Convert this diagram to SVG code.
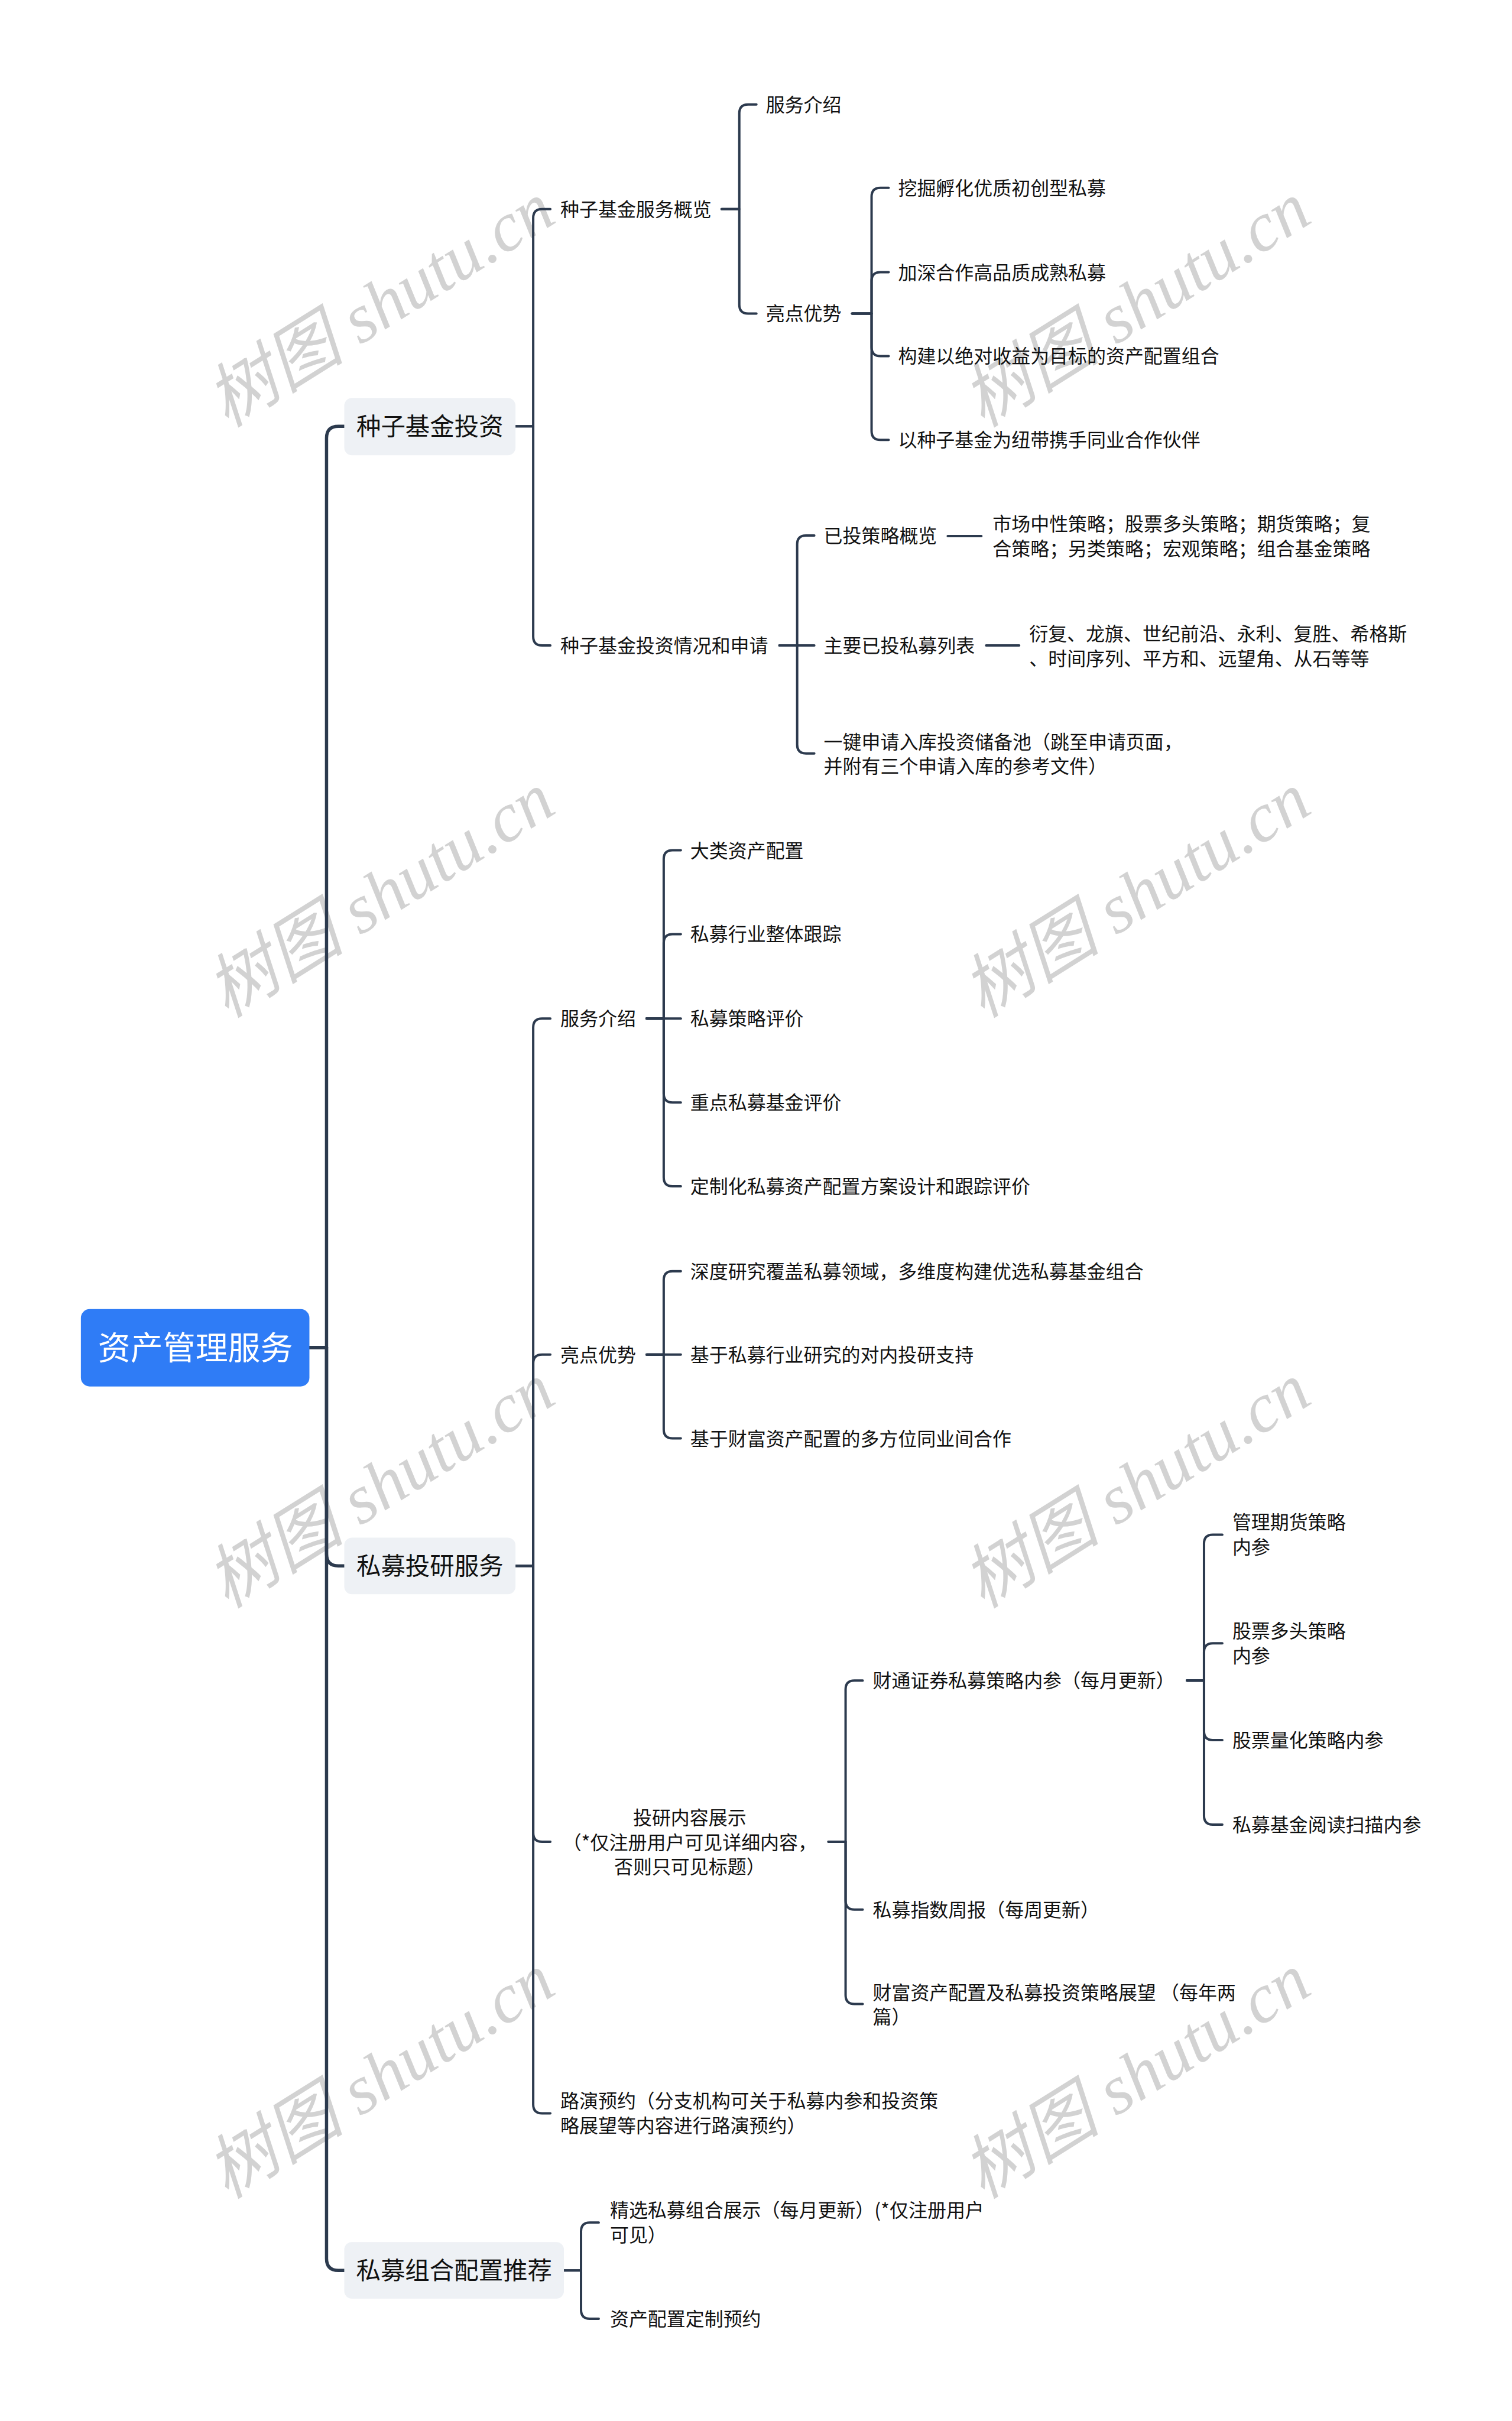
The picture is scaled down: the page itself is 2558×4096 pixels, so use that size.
<svg xmlns="http://www.w3.org/2000/svg" width="2558" height="4096" viewBox="0 0 2558 4096">
<style>
.wm{font-family:"Liberation Serif","Noto Sans CJK SC",serif;font-style:italic;font-size:118px;fill:#d2d2d2;text-anchor:middle}
.c{fill:none;stroke:#2c3a4e;stroke-width:4;stroke-linecap:round;stroke-linejoin:round}
.tr{stroke-width:5.5}
.t{font-family:"Noto Sans CJK SC","Noto Sans CJK TC",sans-serif;font-size:32px;fill:#111}
.l1{font-family:"Noto Sans CJK SC","Noto Sans CJK TC",sans-serif;font-size:41.5px;fill:#111;text-anchor:middle}
.rt{font-family:"Noto Sans CJK SC","Noto Sans CJK TC",sans-serif;font-size:55px;fill:#ffffff;text-anchor:middle}
.m{text-anchor:middle}
.b1{fill:#eef1f5}
</style>
<rect width="2558" height="4096" fill="#ffffff"/>
<g transform="scale(0.999)">
<g id="watermark">
<text class="wm" transform="translate(644,516) rotate(-32)" y="40">树图 shutu.cn</text>
<text class="wm" transform="translate(1924,516) rotate(-32)" y="40">树图 shutu.cn</text>
<text class="wm" transform="translate(644,1516) rotate(-32)" y="40">树图 shutu.cn</text>
<text class="wm" transform="translate(1924,1516) rotate(-32)" y="40">树图 shutu.cn</text>
<text class="wm" transform="translate(644,2516) rotate(-32)" y="40">树图 shutu.cn</text>
<text class="wm" transform="translate(1924,2516) rotate(-32)" y="40">树图 shutu.cn</text>
<text class="wm" transform="translate(644,3516) rotate(-32)" y="40">树图 shutu.cn</text>
<text class="wm" transform="translate(1924,3516) rotate(-32)" y="40">树图 shutu.cn</text>
</g>
<g id="connectors">
<path class="c tr" d="M524,2282 H553 V742 Q553,722 573,722 H583"/>
<path class="c tr" d="M524,2282 H553 V2632 Q553,2652 573,2652 H583"/>
<path class="c tr" d="M524,2282 H553 V3825 Q553,3845 573,3845 H583"/>
<path class="c" d="M873,722 H903 V369 Q903,354 918,354 H932"/>
<path class="c" d="M873,722 H903 V1078 Q903,1093 918,1093 H932"/>
<path class="c" d="M1222,354 H1252 V192 Q1252,177 1267,177 H1281"/>
<path class="c" d="M1222,354 H1252 V516 Q1252,531 1267,531 H1281"/>
<path class="c" d="M1443,531 H1476 V333 Q1476,318 1491,318 H1505"/>
<path class="c" d="M1443,531 H1476 V476 Q1476,461 1491,461 H1505"/>
<path class="c" d="M1443,531 H1476 V588 Q1476,603 1491,603 H1505"/>
<path class="c" d="M1443,531 H1476 V730 Q1476,745 1491,745 H1505"/>
<path class="c" d="M1320,1093 H1350 V922 Q1350,907 1365,907 H1379"/>
<path class="c" d="M1320,1093 H1379"/>
<path class="c" d="M1320,1093 H1350 V1261 Q1350,1276 1365,1276 H1379"/>
<path class="c" d="M1605,908 H1662"/>
<path class="c" d="M1670,1093 H1726"/>
<path class="c" d="M873,2652 H903 V1740 Q903,1725 918,1725 H932"/>
<path class="c" d="M873,2652 H903 V2309 Q903,2294 918,2294 H932"/>
<path class="c" d="M873,2652 H903 V3104 Q903,3119 918,3119 H932"/>
<path class="c" d="M873,2652 H903 V3564 Q903,3579 918,3579 H932"/>
<path class="c" d="M1095,1725 H1124 V1455 Q1124,1440 1139,1440 H1153"/>
<path class="c" d="M1095,1725 H1124 V1597 Q1124,1582 1139,1582 H1153"/>
<path class="c" d="M1095,1725 H1153"/>
<path class="c" d="M1095,1725 H1124 V1852 Q1124,1867 1139,1867 H1153"/>
<path class="c" d="M1095,1725 H1124 V1994 Q1124,2009 1139,2009 H1153"/>
<path class="c" d="M1095,2294 H1124 V2168 Q1124,2153 1139,2153 H1153"/>
<path class="c" d="M1095,2294 H1153"/>
<path class="c" d="M1095,2294 H1124 V2421 Q1124,2436 1139,2436 H1153"/>
<path class="c" d="M1403,3119 H1432 V2861 Q1432,2846 1447,2846 H1461"/>
<path class="c" d="M1403,3119 H1432 V3219 Q1432,3234 1447,3234 H1461"/>
<path class="c" d="M1403,3119 H1432 V3379 Q1432,3394 1447,3394 H1461"/>
<path class="c" d="M2010,2846 H2039 V2614 Q2039,2599 2054,2599 H2070"/>
<path class="c" d="M2010,2846 H2039 V2798 Q2039,2783 2054,2783 H2070"/>
<path class="c" d="M2010,2846 H2039 V2932 Q2039,2947 2054,2947 H2070"/>
<path class="c" d="M2010,2846 H2039 V3075 Q2039,3090 2054,3090 H2070"/>
<path class="c" d="M955,3845 H984 V3779 Q984,3764 999,3764 H1014"/>
<path class="c" d="M955,3845 H984 V3912 Q984,3927 999,3927 H1014"/>
</g>
<g id="root"><rect x="137" y="2217" width="387" height="131" rx="15" fill="#2f7cf6"/><text class="rt" x="331" y="2302">资产管理服务</text></g>
<g id="n-seed"><rect class="b1" x="583" y="674" width="290" height="97" rx="13"/><text class="l1" x="728" y="737">种子基金投资</text></g>
<g id="n-research"><rect class="b1" x="583" y="2604" width="290" height="96" rx="13"/><text class="l1" x="728" y="2667">私募投研服务</text></g>
<g id="n-portfolio"><rect class="b1" x="583" y="3797" width="372" height="96" rx="13"/><text class="l1" x="769" y="3860">私募组合配置推荐</text></g>
<g id="n-seed-overview"><text class="t" x="949" y="366">种子基金服务概览</text></g>
<g id="n-seed-intro"><text class="t" x="1297" y="189">服务介绍</text></g>
<g id="n-seed-adv"><text class="t" x="1297" y="543">亮点优势</text></g>
<g id="n-adv1"><text class="t" x="1521" y="330">挖掘孵化优质初创型私募</text></g>
<g id="n-adv2"><text class="t" x="1521" y="473">加深合作高品质成熟私募</text></g>
<g id="n-adv3"><text class="t" x="1521" y="615">构建以绝对收益为目标的资产配置组合</text></g>
<g id="n-adv4"><text class="t" x="1521" y="757">以种子基金为纽带携手同业合作伙伴</text></g>
<g id="n-seed-apply"><text class="t" x="949" y="1105">种子基金投资情况和申请</text></g>
<g id="n-strat"><text class="t" x="1395" y="919">已投策略概览</text></g>
<g id="n-strat-list"><text class="t" x="1681" y="899">市场中性策略；股票多头策略；期货策略；复</text><text class="t" x="1681" y="941">合策略；另类策略；宏观策略；组合基金策略</text></g>
<g id="n-list"><text class="t" x="1395" y="1105">主要已投私募列表</text></g>
<g id="n-list-names"><text class="t" x="1743" y="1085">衍复、龙旗、世纪前沿、永利、复胜、希格斯</text><text class="t" x="1743" y="1127">、时间序列、平方和、远望角、从石等等</text></g>
<g id="n-apply"><text class="t" x="1395" y="1268">一键申请入库投资储备池（跳至申请页面，</text><text class="t" x="1395" y="1309">并附有三个申请入库的参考文件）</text></g>
<g id="n-r-intro"><text class="t" x="949" y="1737">服务介绍</text></g>
<g id="n-r-i1"><text class="t" x="1169" y="1452">大类资产配置</text></g>
<g id="n-r-i2"><text class="t" x="1169" y="1594">私募行业整体跟踪</text></g>
<g id="n-r-i3"><text class="t" x="1169" y="1737">私募策略评价</text></g>
<g id="n-r-i4"><text class="t" x="1169" y="1879">重点私募基金评价</text></g>
<g id="n-r-i5"><text class="t" x="1169" y="2021">定制化私募资产配置方案设计和跟踪评价</text></g>
<g id="n-r-adv"><text class="t" x="949" y="2306">亮点优势</text></g>
<g id="n-r-a1"><text class="t" x="1169" y="2165">深度研究覆盖私募领域，多维度构建优选私募基金组合</text></g>
<g id="n-r-a2"><text class="t" x="1169" y="2306">基于私募行业研究的对内投研支持</text></g>
<g id="n-r-a3"><text class="t" x="1169" y="2448">基于财富资产配置的多方位同业间合作</text></g>
<g id="n-r-show"><text class="t m" x="1168" y="3090">投研内容展示</text><text class="t m" x="1168" y="3132">（*仅注册用户可见详细内容，</text><text class="t m" x="1168" y="3173">否则只可见标题）</text></g>
<g id="n-caitong"><text class="t" x="1478" y="2858">财通证券私募策略内参（每月更新）</text></g>
<g id="n-ct1"><text class="t" x="2087" y="2590">管理期货策略</text><text class="t" x="2087" y="2632">内参</text></g>
<g id="n-ct2"><text class="t" x="2087" y="2774">股票多头策略</text><text class="t" x="2087" y="2816">内参</text></g>
<g id="n-ct3"><text class="t" x="2087" y="2959">股票量化策略内参</text></g>
<g id="n-ct4"><text class="t" x="2087" y="3102">私募基金阅读扫描内参</text></g>
<g id="n-weekly"><text class="t" x="1478" y="3246">私募指数周报（每周更新）</text></g>
<g id="n-outlook"><text class="t" x="1478" y="3386">财富资产配置及私募投资策略展望 （每年两</text><text class="t" x="1478" y="3427">篇）</text></g>
<g id="n-roadshow"><text class="t" x="949" y="3570">路演预约（分支机构可关于私募内参和投资策</text><text class="t" x="949" y="3612">略展望等内容进行路演预约）</text></g>
<g id="n-p1"><text class="t" x="1033" y="3755">精选私募组合展示（每月更新）(*仅注册用户</text><text class="t" x="1033" y="3797">可见）</text></g>
<g id="n-p2"><text class="t" x="1033" y="3939">资产配置定制预约</text></g>
</g>
</svg>
